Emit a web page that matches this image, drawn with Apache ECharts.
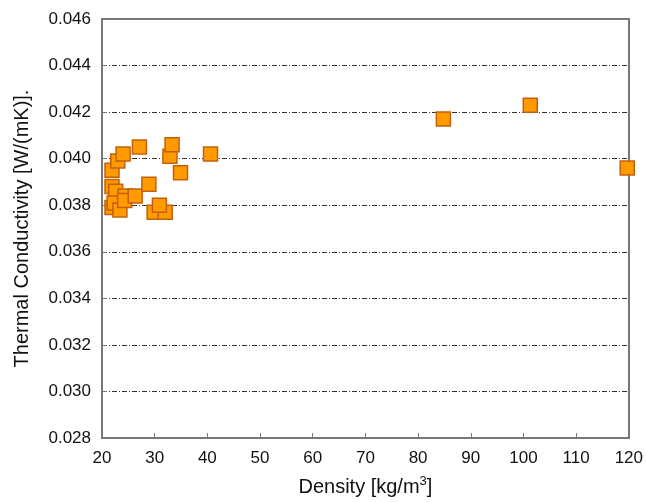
<!DOCTYPE html>
<html>
<head>
<meta charset="UTF-8">
<title>Thermal conductivity vs density</title>
<style>
  html, body { margin: 0; padding: 0; background: #fff; }
  #main { width: 646px; height: 502px; }
</style>
</head>
<body>
<div id="main"></div>
<script src="https://cdn.jsdelivr.net/npm/echarts@6/dist/echarts.min.js"></script>
<script>
// density [kg/m3]
var density = [21.9, 23.0, 24.0, 27.1, 21.9, 22.6, 21.9, 22.3, 23.4, 24.4, 24.3, 26.3,
               28.9, 29.9, 32.0, 30.9, 32.9, 33.3, 34.9, 40.6, 84.8, 101.3, 119.7];
// thermal conductivity [W/(mK)]
var conductivity = [0.0395, 0.0399, 0.0402, 0.0405, 0.0388, 0.0386, 0.0379, 0.0381, 0.0378, 0.0384, 0.0382, 0.0384,
                    0.0389, 0.0377, 0.0377, 0.0380, 0.0401, 0.0406, 0.0394, 0.0402, 0.0417, 0.0423, 0.0396];

var xTicks = [20, 30, 40, 50, 60, 70, 80, 90, 100, 110, 120];
var yTicks = [0.028, 0.030, 0.032, 0.034, 0.036, 0.038, 0.040, 0.042, 0.044, 0.046];

var points = density.map(function (d, i) { return [d, conductivity[i]]; });

var font = "'Liberation Sans', Arial, sans-serif";
var boxLine = { show: true, lineStyle: { color: '#777', width: 2 } };

var chart = echarts.init(document.getElementById('main'));
chart.setOption({
    animation: false,
    textStyle: { fontFamily: font },
    grid: { left: 102, right: 16, top: 19, bottom: 61 },
    xAxis: [{
        type: 'value',
        min: xTicks[0],
        max: xTicks[xTicks.length - 1],
        interval: 10,
        axisLine: boxLine,
        axisTick: { show: true, inside: true, length: 5, lineStyle: { color: '#777', width: 1 } },
        axisLabel: { color: '#111', fontSize: 17, margin: 12 },
        splitLine: { show: false },
        name: '{a|Density [kg/m}{s|3}{a|]}',
        nameLocation: 'middle',
        nameGap: 37,
        nameTextStyle: {
            rich: {
                a: { fontSize: 20, color: '#111', lineHeight: 24, fontFamily: font },
                s: { fontSize: 13, color: '#111', lineHeight: 24, verticalAlign: 'top', fontFamily: font }
            }
        }
    }, {
        type: 'value',
        position: 'top',
        min: xTicks[0],
        max: xTicks[xTicks.length - 1],
        axisLine: boxLine,
        axisTick: { show: false },
        axisLabel: { show: false },
        splitLine: { show: false }
    }],
    yAxis: [{
        type: 'value',
        min: yTicks[0],
        max: yTicks[yTicks.length - 1],
        interval: 0.002,
        axisLine: boxLine,
        axisTick: { show: true, inside: true, length: 5, lineStyle: { color: '#777', width: 1 } },
        axisLabel: {
            color: '#111', fontSize: 17, margin: 11,
            formatter: function (v) { return v.toFixed(3); }
        },
        splitLine: {
            show: true,
            showMinLine: false,
            showMaxLine: false,
            lineStyle: { color: '#333', width: 1, type: [5, 2, 1, 2] }
        },
        name: 'Thermal Conductivity [W/(mK)].',
        nameLocation: 'middle',
        nameGap: 70,
        nameTextStyle: { fontSize: 20, color: '#111' }
    }, {
        type: 'value',
        position: 'right',
        min: yTicks[0],
        max: yTicks[yTicks.length - 1],
        axisLine: boxLine,
        axisTick: { show: false },
        axisLabel: { show: false },
        splitLine: { show: false }
    }],
    series: [{
        type: 'scatter',
        data: points,
        symbol: 'rect',
        symbolSize: 14,
        itemStyle: { color: '#ff9a00', borderColor: '#c4600c', borderWidth: 1.5, opacity: 1 }
    }]
});
</script>
</body>
</html>
